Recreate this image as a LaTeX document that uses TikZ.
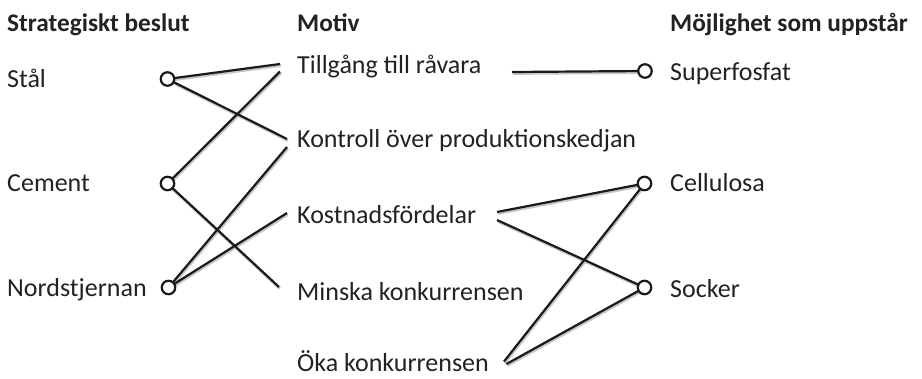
\documentclass[tikz,border=0pt]{standalone}
\usepackage{fontspec}
\setmainfont{Carlito}
\definecolor{ink}{HTML}{222222}
\definecolor{wire}{HTML}{1A1A1A}
\begin{document}
\begin{tikzpicture}[x=1pt,y=-1pt,
  lbl/.style={anchor=base west, inner sep=0pt, text=ink, font=\fontsize{26}{30}\selectfont},
  hdr/.style={lbl, font=\fontsize{25.3}{30}\selectfont\bfseries},
  dot/.style={circle, draw=wire, fill=white, line width=2.2pt, minimum size=13.5pt, inner sep=0pt},
  wireline/.style={draw=wire, line width=2.2pt},
  halo/.style={draw=black!22, line width=2.8pt, transform canvas={shift={(0.8,1.5)}}}
]
\useasboundingbox (0,0) rectangle (922,378);

% column headers
\node[hdr] (hdA) at (7,31) {Strategiskt beslut};
\node[hdr] (hdB) at (297,31) {Motiv};
\node[hdr] (hdC) at (670,31) {Möjlighet som uppstår};

% strategic decisions
\node[lbl] (stal) at (7,87) {Stål};
\node[lbl] (cement) at (7,191) {Cement};
\node[lbl] (nord) at (7,296) {Nordstjernan};

% motives
\node[lbl] (tillg) at (297,73) {Tillgång till råvara};
\node[lbl] (kontr) at (297,147) {Kontroll över produktionskedjan};
\node[lbl] (kostn) at (297,223) {Kostnadsfördelar};
\node[lbl] (minska) at (297,300) {Minska konkurrensen};
\node[lbl] (oka) at (297,371) {Öka konkurrensen};

% opportunities
\node[lbl] (super) at (670,80) {Superfosfat};
\node[lbl] (cell) at (670,191) {Cellulosa};
\node[lbl] (sock) at (670,297) {Socker};

% connector end points beside the motive texts
\coordinate (tillgA) at (280,64);
\coordinate (tillgB) at (280,71.5);
\coordinate (tillgR) at (512,72);
\coordinate (kontrA) at (287,139);
\coordinate (kontrB) at (287,147);
\coordinate (kostnA) at (287,213);
\coordinate (kostnR1) at (497,212);
\coordinate (kostnR2) at (497,220);
\coordinate (minskaA) at (279,287);
\coordinate (okaR1) at (504,361.5);
\coordinate (okaR2) at (506.5,364);

% connector dots
\coordinate (pStal) at (167.5,79);
\coordinate (pCement) at (167.5,183.5);
\coordinate (pNord) at (168.5,287.5);
\coordinate (pSuper) at (645,71);
\coordinate (pCell) at (644.5,183.5);
\coordinate (pSock) at (644.5,287.5);

% connectors, each with a faint shadow underneath
\foreach \a/\b in {pStal/tillgA, pStal/kontrA, pCement/tillgB, pCement/minskaA,
                   pNord/kontrB, pNord/kostnA, tillgR/pSuper, kostnR1/pCell,
                   kostnR2/pSock, okaR1/pCell, okaR2/pSock}
  \path[halo] (\a) -- (\b);
\foreach \a/\b in {pStal/tillgA, pStal/kontrA, pCement/tillgB, pCement/minskaA,
                   pNord/kontrB, pNord/kostnA, tillgR/pSuper, kostnR1/pCell,
                   kostnR2/pSock, okaR1/pCell, okaR2/pSock}
  \path[wireline] (\a) -- (\b);

\foreach \p in {pStal, pCement, pNord, pSuper, pCell, pSock}
  \node[dot] (\p-dot) at (\p) {};
\end{tikzpicture}
\end{document}
